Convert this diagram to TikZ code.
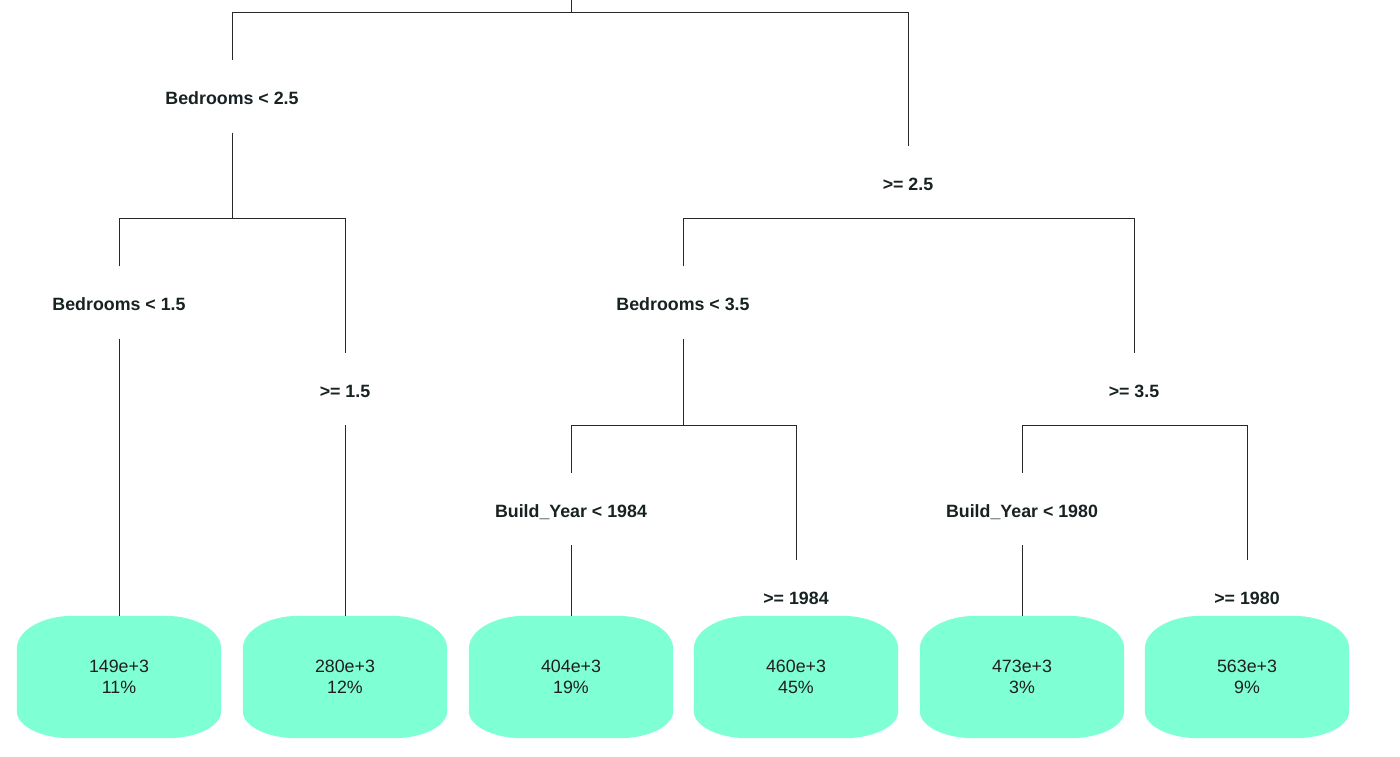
\documentclass[tikz,border=0pt]{standalone}
\usepackage{fontspec}
\setmainfont{Liberation Sans}
\usetikzlibrary{backgrounds}
\definecolor{leaffill}{RGB}{127,255,212}
\definecolor{labeltext}{RGB}{24,34,34}
\definecolor{edgecol}{RGB}{40,40,40}
\newcommand{\leafbg}[1]{%
  \fill[leaffill] ([xshift=56pt]#1.north west) -- ([xshift=-56pt]#1.north east)
    arc[start angle=90,end angle=0,x radius=56pt,y radius=33pt]
    -- ([yshift=27pt]#1.south east)
    arc[start angle=0,end angle=-90,x radius=54pt,y radius=27pt]
    -- ([xshift=54pt]#1.south west)
    arc[start angle=270,end angle=180,x radius=54pt,y radius=27pt]
    -- ([yshift=-33pt]#1.north west)
    arc[start angle=180,end angle=90,x radius=56pt,y radius=33pt]
    -- cycle;}
\begin{document}
\begin{tikzpicture}[x=1pt,y=1pt,
  splitlabel/.style={font=\fontsize{17.8}{20}\selectfont\bfseries, text=labeltext,
    minimum height=72pt, inner sep=0pt, text height=16pt, text depth=0pt},
  leaf/.style={font=\fontsize{17.8}{21.5}\selectfont, text=black!88, align=center,
    minimum width=204pt, minimum height=122pt, inner sep=0pt},
  edge/.style={draw=edgecol, line width=0.9pt}]
\useasboundingbox (0,0) rectangle (1400,-757);
% split labels
\node[splitlabel] (b25) at (232,-96.5) {Bedrooms < 2.5};
\node[splitlabel] (g25) at (908,-182.5) {>= 2.5};
\node[splitlabel] (b15) at (119,-302.5) {Bedrooms < 1.5};
\node[splitlabel] (g15) at (345,-389) {>= 1.5};
\node[splitlabel] (b35) at (683,-302.5) {Bedrooms < 3.5};
\node[splitlabel] (g35) at (1134,-389) {>= 3.5};
\node[splitlabel] (y84) at (571,-509) {Build\_Year < 1984};
\node[splitlabel] (g84) at (796,-596.5) {>= 1984};
\node[splitlabel] (y80) at (1022,-509) {Build\_Year < 1980};
\node[splitlabel] (g80) at (1247,-596.5) {>= 1980};
% leaves
\node[leaf] (l1) at (119,-677) {149e+3\\11\%};
\node[leaf] (l2) at (345,-677) {280e+3\\12\%};
\node[leaf] (l3) at (571,-677) {404e+3\\19\%};
\node[leaf] (l4) at (796,-677) {460e+3\\45\%};
\node[leaf] (l5) at (1022,-677) {473e+3\\3\%};
\node[leaf] (l6) at (1247,-677) {563e+3\\9\%};
\begin{scope}[on background layer]
  \leafbg{l1}\leafbg{l2}\leafbg{l3}\leafbg{l4}\leafbg{l5}\leafbg{l6}
\end{scope}
% junction points
\coordinate (top) at (571,0);
\coordinate (j0) at (571,-12);
\coordinate (j1) at (232,-218);
\coordinate (j3) at (683,-425);
\coordinate (j4) at (1134,-425);
% connectors
\draw[edge] (top) -- (j0);
\draw[edge] (b25.north) -- (b25.north |- j0) -- (g25.north |- j0) -- (g25.north);
\draw[edge] (b25.south) -- (j1);
\draw[edge] (b15.north) -- (b15.north |- j1) -- (g15.north |- j1) -- (g15.north);
\draw[edge] (b15.south) -- (l1.north);
\draw[edge] (g15.south) -- (l2.north);
\draw[edge] (b35.north) -- (b35.north |- g25.south) -- (g35.north |- g25.south) -- (g35.north);
\draw[edge] (b35.south) -- (j3);
\draw[edge] (y84.north) -- (y84.north |- j3) -- (g84.north |- j3) -- (g84.north);
\draw[edge] (y84.south) -- (l3.north);
\draw[edge] (g35.south) -- (j4);
\draw[edge] (y80.north) -- (y80.north |- j4) -- (g80.north |- j4) -- (g80.north);
\draw[edge] (y80.south) -- (l5.north);
\end{tikzpicture}
\end{document}
